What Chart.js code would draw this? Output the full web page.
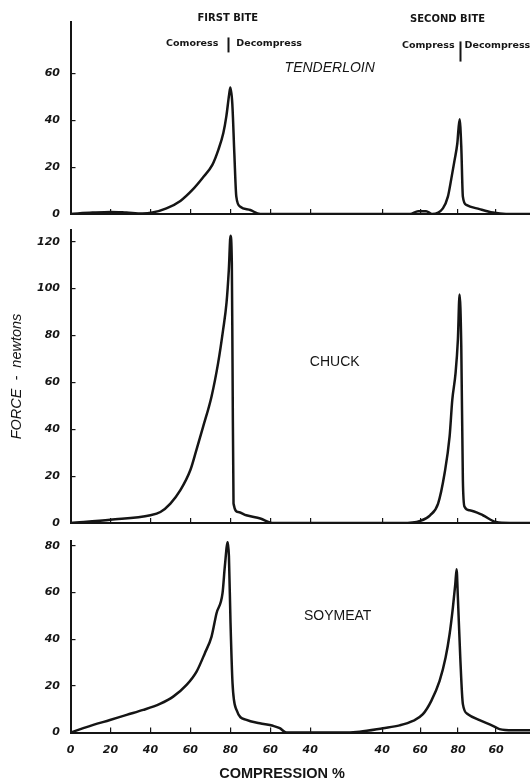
<!DOCTYPE html>
<html>
<head>
<meta charset="utf-8">
<script src="https://cdn.jsdelivr.net/npm/chart.js@4.4.1/dist/chart.umd.min.js"></script>
<style>
  html, body { margin: 0; padding: 0; background: #fff; }
  #wrap { position: relative; width: 530px; height: 783px; overflow: hidden; }
  .panel { position: absolute; left: 0; width: 530px; }
  .panel canvas { display: block; }
</style>
</head>
<body>
<div id="wrap">
  <div class="panel" style="top:0;height:222px"><canvas id="tenderloinChart"></canvas></div>
  <div class="panel" style="top:222px;height:308px"><canvas id="chuckChart"></canvas></div>
  <div class="panel" style="top:530px;height:253px"><canvas id="soymeatChart"></canvas></div>
</div>
<script>
// x = position along the compression axis (first bite 0..80..40, second bite 40..80..60), y = force in newtons
const TICK_POS = [0, 20, 40, 60, 80, 100, 120, 156, 175, 194, 213];
const TICK_LABELS = ["0", "20", "40", "60", "80", "60", "40", "40", "60", "80", "60"];

const TENDERLOIN_X = [0, 11, 20, 28, 36, 41, 48, 55, 61, 66, 71, 74, 76.5, 78, 79.4, 80, 81, 82, 83, 85, 90, 95,
  170, 174, 178, 181, 186.4, 188.9, 190.6, 192.25, 193.6, 194.75, 195.6, 196.4, 198.1, 204.75, 211.4, 218, 230];
const TENDERLOIN_Y = [0, 0.6, 0.9, 0.6, 0.2, 0.6, 2.4, 5.6, 10.3, 15.3, 21, 27.4, 34.6, 41.7, 51, 54, 47, 26, 7.4, 3.1, 1.7, 0,
  0, 1.2, 1.2, 0, 2.4, 7.4, 15, 23, 30, 40.5, 28.8, 7.4, 3.9, 2.1, 0.6, 0, 0];

const CHUCK_X = [0, 20, 40, 45, 50, 55, 60, 63, 66.4, 70.6, 73.9, 76.4, 78.1, 79.25, 80.1, 80.75, 81.1, 81.6, 83.9, 88, 95, 101.5, 110,
  166, 175, 180, 184, 187.25, 189.75, 191.1, 192.75, 193.9, 194.75, 195.6, 196.4, 197.25, 199.75, 206.4, 213, 220, 230];
const CHUCK_Y = [0, 1.4, 3.3, 4.7, 8.3, 14, 22.6, 31.1, 41.1, 54, 68.3, 82.5, 94, 108, 122.5, 111, 68.3, 8.3, 4.7, 3.3, 1.9, 0, 0,
  0, 0.9, 3.3, 8.3, 21.2, 36.8, 52.5, 64, 78.2, 97.5, 75.4, 18.3, 6.9, 5.4, 3.3, 0.4, 0, 0];

const SOYMEAT_X = [0, 6.4, 11.4, 19.75, 28.1, 36.4, 44.75, 51.4, 58.1, 63.1, 67.25, 70.6, 73.1, 76.1, 77.25, 78.7, 79.3, 80.1, 81.1, 83.1, 88.1, 94.75, 101.4, 104.75, 108.1,
  134.75, 144.75, 156.4, 164.75, 171.4, 176.4, 180.6, 184.75, 187.75, 189.75, 191.4, 192.6, 193.25, 193.9, 195.1, 196.4, 198.9, 204.75, 211.4, 214.75, 221.4, 230];
const SOYMEAT_Y = [0, 1.9, 3.3, 5.4, 7.6, 9.7, 12.3, 15.4, 20.4, 26.1, 34, 41.1, 51.1, 59.7, 71.1, 81.5, 75.4, 46.9, 21.2, 9.7, 5.4, 4, 2.9, 1.9, 0,
  0, 0.4, 1.9, 3.1, 5, 7.9, 13.6, 22.1, 32.1, 42.1, 53.5, 63.5, 69.9, 57.8, 32.1, 12.2, 7.9, 5.3, 2.9, 1.5, 1, 1];

const TENDERLOIN_TICKS = [0, 20, 40, 60];
const CHUCK_TICKS = [0, 20, 40, 60, 80, 100, 120];
const SOYMEAT_TICKS = [0, 20, 40, 60, 80];

const INK = "#151515";
const TICK_FONT = { family: "DejaVu Sans", size: 11, weight: "bold", style: "italic" };
const SMALL_BOLD = "bold 9.5px 'DejaVu Sans'";
const HEAD_BOLD = "bold 10px 'DejaVu Sans'";

// text notes drawn at chart coordinates
const notesPlugin = {
  id: "notes",
  afterDraw(chart, args, opts) {
    const { ctx } = chart;
    const x = chart.scales.x, y = chart.scales.y;
    ctx.save();
    ctx.fillStyle = INK;
    ctx.strokeStyle = INK;
    (opts.texts || []).forEach(n => {
      ctx.font = n.font;
      ctx.textAlign = n.align || "center";
      ctx.textBaseline = "middle";
      ctx.fillText(n.text, x.getPixelForValue(n.t), y.getPixelForValue(n.v));
    });
    (opts.bars || []).forEach(b => {
      const px = Math.round(x.getPixelForValue(b.t)) + 0.5;
      ctx.lineWidth = 2;
      ctx.beginPath();
      ctx.moveTo(px, y.getPixelForValue(b.from));
      ctx.lineTo(px, y.getPixelForValue(b.to));
      ctx.stroke();
    });
    ctx.restore();
  }
};

function makePanel(id, xs, ys, yMax, yTicks, extra) {
  const points = xs.map((v, i) => ({ x: v, y: ys[i] }));
  const last = extra.bottom === true;
  return new Chart(document.getElementById(id), {
    type: "line",
    data: {
      datasets: [{
        data: points,
        borderColor: INK,
        borderWidth: 2.5,
        pointRadius: 0,
        cubicInterpolationMode: "monotone",
        fill: false
      }]
    },
    options: {
      responsive: true,
      maintainAspectRatio: false,
      animation: false,
      events: [],
      layout: { padding: { top: extra.padTop, left: last ? 34 : 0, right: 0, bottom: 0 } },
      scales: {
        x: {
          type: "linear",
          min: 0,
          max: 230,
          afterBuildTicks: scale => { scale.ticks = TICK_POS.map(v => ({ value: v })); },
          afterFit: scale => {
            scale.height = extra.xHeight;
            scale.paddingLeft = 0;
            scale.paddingRight = 0;
          },
          ticks: {
            display: last,
            autoSkip: false,
            maxRotation: 0,
            padding: 15.7,
            color: INK,
            font: TICK_FONT,
            callback: (value, index) => TICK_LABELS[index]
          },
          grid: { drawOnChartArea: false, tickLength: -5, color: INK, lineWidth: 1.2 },
          border: { display: true, color: INK, width: 2 }
        },
        y: {
          type: "linear",
          min: 0,
          max: yMax,
          afterBuildTicks: scale => { scale.ticks = yTicks.map(v => ({ value: v })); },
          afterFit: scale => {
            scale.width = last ? 36.5 : 70.5;
            scale.paddingTop = 0;
            scale.paddingBottom = 0;
          },
          ticks: { padding: 15.5, color: INK, font: TICK_FONT },
          grid: { drawOnChartArea: false, tickLength: -5, color: INK, lineWidth: 1.2 },
          border: { display: true, color: INK, width: 2 },
          title: {
            display: !!extra.yTitle,
            text: extra.yTitle || "",
            color: INK,
            font: { family: "Liberation Sans", size: 14.5, style: "italic" },
            padding: { top: 8, bottom: 0 }
          }
        }
      },
      plugins: {
        legend: { display: false },
        tooltip: { enabled: false },
        title: {
          display: last,
          position: "bottom",
          text: "COMPRESSION %",
          color: INK,
          font: { family: "Liberation Sans", size: 14.5, weight: "bold" },
          padding: { top: 6, bottom: 0 }
        },
        notes: { texts: extra.texts, bars: extra.bars || [] }
      }
    },
    plugins: [notesPlugin]
  });
}

makePanel("tenderloinChart", TENDERLOIN_X, TENDERLOIN_Y, 82, TENDERLOIN_TICKS, {
  padTop: 22,
  xHeight: 8,
  texts: [
    { text: "FIRST BITE", t: 78.75, v: 83.7, font: HEAD_BOLD },
    { text: "Comoress", t: 74, v: 72.6, font: SMALL_BOLD, align: "right" },
    { text: "Decompress", t: 83, v: 72.6, font: SMALL_BOLD, align: "left" },
    { text: "SECOND BITE", t: 188.75, v: 83.1, font: HEAD_BOLD },
    { text: "Compress", t: 192.25, v: 71.9, font: SMALL_BOLD, align: "right" },
    { text: "Decompress", t: 197.25, v: 71.9, font: SMALL_BOLD, align: "left" },
    { text: "TENDERLOIN", t: 129.75, v: 62.1, font: "italic 14px 'Liberation Sans'" }
  ],
  bars: [
    { t: 79, from: 75.4, to: 69 },
    { t: 194.75, from: 73.7, to: 65.1 }
  ]
});

makePanel("chuckChart", CHUCK_X, CHUCK_Y, 125, CHUCK_TICKS, {
  padTop: 8,
  xHeight: 7,
  yTitle: "FORCE  -  newtons",
  texts: [
    { text: "CHUCK", t: 132.25, v: 68.8, font: "14px 'Liberation Sans'" }
  ]
});

makePanel("soymeatChart", SOYMEAT_X, SOYMEAT_Y, 82, SOYMEAT_TICKS, {
  padTop: 11,
  xHeight: 27,
  bottom: true,
  texts: [
    { text: "SOYMEAT", t: 133.75, v: 49.7, font: "14px 'Liberation Sans'" }
  ]
});
</script>
</body>
</html>
